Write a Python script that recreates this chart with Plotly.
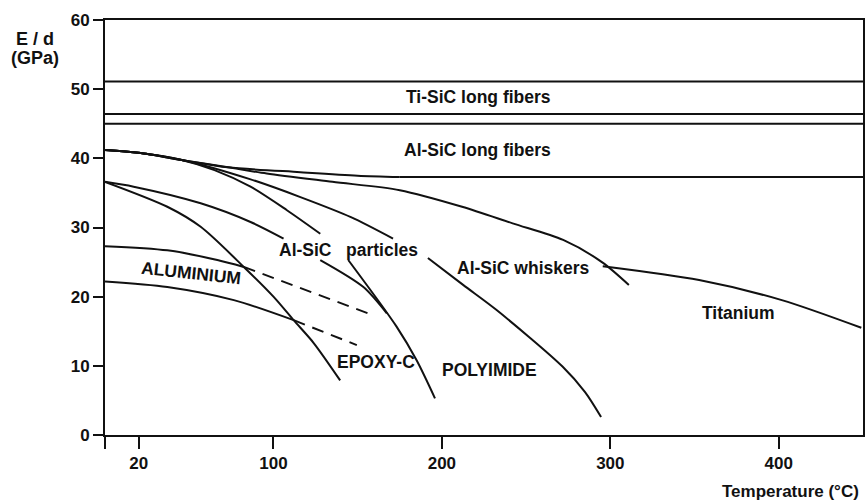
import plotly.graph_objects as go

# Specific stiffness E/d (GPa) versus temperature (°C)

# Horizontal bands (long-fibre composites)
ti_sic_band = [51.1, 46.4]
al_sic_band_top = 45.0

# Al-SiC long fibres, lower boundary
fib_x = [0, 20, 47, 73, 116, 150, 175, 450]
fib_y = [41.2, 40.8, 39.7, 38.7, 38.0, 37.5, 37.3, 37.3]

# Al-SiC whiskers
whk_x = [0, 20, 47, 73, 96, 135, 175, 212, 242, 272, 295, 311]
whk_y = [41.2, 40.8, 39.7, 38.7, 37.8, 36.6, 35.4, 33.0, 30.6, 28.2, 25.0, 21.7]

# Al-SiC particle family (segments broken where the labels sit)
p1_x = [0, 20, 47, 86, 116, 146, 171, None, 191.7, 212.6, 232.3, 271.6, 285, 294.5]
p1_y = [41.2, 40.8, 39.7, 37.0, 34.4, 31.5, 28.4, None, 25.6, 21.7, 18.1, 9.9, 6.2, 2.6]

p2_x = [0, 20, 45, 65, 86.4, 108, 127.8, None, 144.4, 173, 185, 195.9]
p2_y = [41.2, 40.8, 39.8, 38.3, 35.9, 32.5, 29.1, None, 25.3, 15.7, 10.8, 5.3]

p3_x = [0, 17, 56.8, 86.4, 106, None, 127.8, 153.4, 167.3]
p3_y = [36.6, 35.9, 33.5, 30.8, 28.4, None, 25.3, 21.4, 17.6]

# Epoxy-C
epx_x = [0, 37, 56.8, 82.4, 100, 112, 123.9, 139.6]
epx_y = [36.6, 33.0, 30.1, 24.3, 20.0, 16.6, 13.3, 7.9]

# Aluminium (solid) and extrapolated (dashed) parts
alu_hi_x = [0, 37, 66.7, 82.4]
alu_hi_y = [27.3, 26.7, 25.3, 24.3]
alu_hi_dash_x = [82.4, 159.4]
alu_hi_dash_y = [24.3, 17.3]

alu_lo_x = [0, 37, 76.5, 112]
alu_lo_y = [22.2, 21.4, 19.5, 16.6]
alu_lo_dash_x = [112, 149.5]
alu_lo_dash_y = [16.6, 13.0]

# Titanium
ti_x = [295.5, 352.7, 401.8, 449]
ti_y = [24.4, 22.4, 19.5, 15.5]

# Axis ticks
x_ticks = [0, 20, 100, 200, 300, 400]
x_tick_text = ["", "20", "100", "200", "300", "400"]
y_ticks = [0, 10, 20, 30, 40, 50, 60]

# Text labels: (text, x, y, angle)
labels = [
    ("Ti-SiC long fibers", 222, 48.8, 0),
    ("Al-SiC long fibers", 221, 41.2, 0),
    ("Al-SiC", 118.9, 26.8, 0),
    ("particles", 164.5, 26.8, 0),
    ("Al-SiC whiskers", 248.5, 24.1, 0),
    ("Titanium", 376.3, 17.6, 0),
    ("EPOXY-C", 160.9, 10.5, 0),
    ("POLYIMIDE", 228.4, 9.4, 0),
    ("ALUMINIUM", 50.9, 23.4, 6),
]

INK = "#111111"
FONT = "Liberation Sans, Arial, sans-serif"
LW = 2
LABEL_SIZE = 17.5
TICK_SIZE = 17

fig = go.Figure()


def add_line(xs, ys, shape="spline", dash="solid"):
    fig.add_trace(go.Scatter(
        x=xs, y=ys, mode="lines", connectgaps=False,
        line=dict(color=INK, width=LW, shape=shape, smoothing=0.8, dash=dash),
        hoverinfo="skip", showlegend=False,
    ))


for yv in ti_sic_band + [al_sic_band_top]:
    add_line([0, 450], [yv, yv], shape="linear")

add_line(fib_x[:-1], fib_y[:-1])
add_line(fib_x[-2:], fib_y[-2:], shape="linear")
add_line(whk_x, whk_y)
add_line(p1_x, p1_y)
add_line(p2_x, p2_y)
add_line(p3_x, p3_y)
add_line(epx_x, epx_y)
add_line(alu_hi_x, alu_hi_y)
add_line(alu_lo_x, alu_lo_y)
add_line(alu_hi_dash_x, alu_hi_dash_y, shape="linear", dash="12px,8px")
add_line(alu_lo_dash_x, alu_lo_dash_y, shape="linear", dash="12px,8px")
add_line(ti_x, ti_y)

for text, x, y, ang in labels:
    fig.add_annotation(
        x=x, y=y, text=text, showarrow=False, textangle=ang,
        font=dict(family=FONT, size=LABEL_SIZE, color=INK, weight="bold"),
        xanchor="center", yanchor="middle",
    )

# Axis titles
fig.add_annotation(xref="paper", yref="paper", x=-0.092, y=0.955, text="E / d",
                   showarrow=False, xanchor="center", yanchor="middle",
                   font=dict(family=FONT, size=18, color=INK, weight="bold"))
fig.add_annotation(xref="paper", yref="paper", x=-0.092, y=0.909, text="(GPa)",
                   showarrow=False, xanchor="center", yanchor="middle",
                   font=dict(family=FONT, size=18, color=INK, weight="bold"))
fig.add_annotation(xref="paper", yref="paper", x=0.997, y=-0.137, text="Temperature (°C)",
                   showarrow=False, xanchor="right", yanchor="middle",
                   font=dict(family=FONT, size=17, color=INK, weight="bold"))

fig.update_xaxes(
    range=[0, 450], tickvals=x_ticks, ticktext=x_tick_text,
    showline=True, linecolor=INK, linewidth=LW, mirror=True,
    ticks="outside", ticklen=12, tickwidth=LW, tickcolor=INK,
    showgrid=False, zeroline=False,
    tickfont=dict(family=FONT, size=TICK_SIZE, color=INK, weight="bold"),
)
fig.update_yaxes(
    range=[0, 60], tickvals=y_ticks,
    showline=True, linecolor=INK, linewidth=LW, mirror=True,
    ticks="outside", ticklen=10, tickwidth=LW, tickcolor=INK,
    showgrid=False, zeroline=False,
    tickfont=dict(family=FONT, size=TICK_SIZE, color=INK, weight="bold"),
)

fig.update_layout(
    width=867, height=504,
    margin=dict(l=105, r=2, t=20, b=69),
    paper_bgcolor="white", plot_bgcolor="white",
    showlegend=False,
)

fig.write_html("out.html")
